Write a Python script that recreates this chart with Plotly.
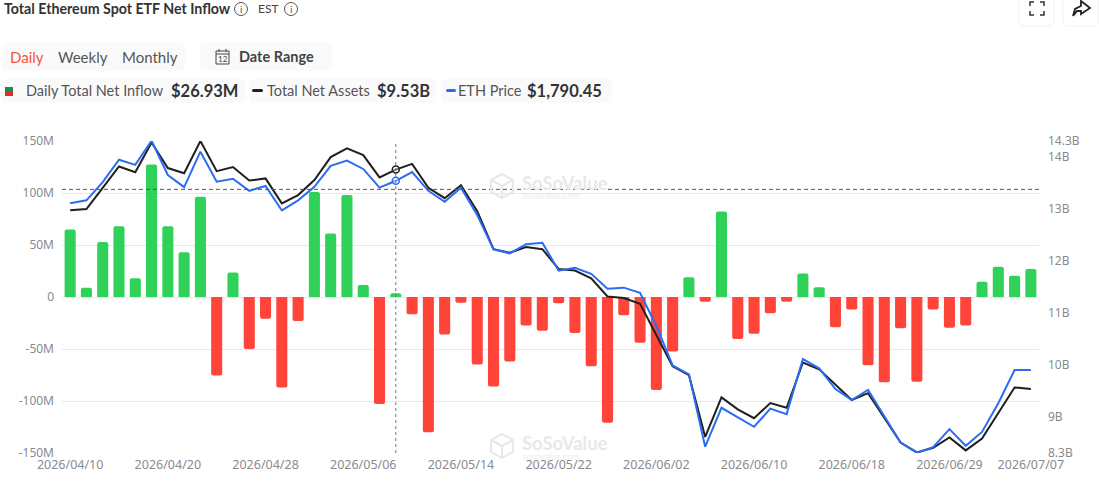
import plotly.graph_objects as go

W, H = 1100, 486

# Trading days on the x axis
dates = ['2026/04/10', '2026/04/13', '2026/04/14', '2026/04/15', '2026/04/16', '2026/04/17',
         '2026/04/20', '2026/04/21', '2026/04/22', '2026/04/23', '2026/04/24', '2026/04/27',
         '2026/04/28', '2026/04/29', '2026/04/30', '2026/05/01', '2026/05/04', '2026/05/05',
         '2026/05/06', '2026/05/07', '2026/05/08', '2026/05/11', '2026/05/12', '2026/05/13',
         '2026/05/14', '2026/05/15', '2026/05/18', '2026/05/19', '2026/05/20', '2026/05/21',
         '2026/05/22', '2026/05/26', '2026/05/27', '2026/05/28', '2026/05/29', '2026/06/01',
         '2026/06/02', '2026/06/03', '2026/06/04', '2026/06/05', '2026/06/08', '2026/06/09',
         '2026/06/10', '2026/06/11', '2026/06/12', '2026/06/15', '2026/06/16', '2026/06/17',
         '2026/06/18', '2026/06/22', '2026/06/23', '2026/06/24', '2026/06/25', '2026/06/26',
         '2026/06/29', '2026/06/30', '2026/07/01', '2026/07/02', '2026/07/06', '2026/07/07']

# Daily net inflow, $M
net_inflow = [65, 9, 53, 68, 18, 127.5, 68, 43, 96.5, -75.6,
              23.5, -50, -21, -87, -23, 101, 61, 98, 11.5, -103,
              3.5, -16.5, -130, -36, -5.5, -65, -86, -62, -27.5, -32.5,
              -6, -34.5, -66.7, -121, -17.5, -44, -89.5, -52.5, 19, -4.5,
              82.3, -40.5, -35.3, -15.7, -4.5, 22.5, 9.3, -29, -12, -65.7,
              -82, -30, -81.5, -12, -29.5, -27.3, 14.7, 29, 20.5, 26.93]

# Total net assets, $B
net_assets = [12.97, 12.99, 13.40, 13.81, 13.70, 14.27, 13.78, 13.68, 14.30, 13.72,
              13.80, 13.54, 13.58, 13.10, 13.26, 13.55, 13.99, 14.16, 14.03, 13.60,
              13.75, 13.86, 13.40, 13.20, 13.45, 12.95, 12.22, 12.15, 12.26, 12.22,
              11.84, 11.81, 11.66, 11.31, 11.28, 11.17, 10.57, 9.97, 9.80, 8.61,
              9.37, 9.14, 8.97, 9.26, 9.17, 10.04, 9.91, 9.61, 9.32, 9.45,
              8.97, 8.50, 8.31, 8.40, 8.60, 8.35, 8.58, 9.06, 9.56, 9.53]

# ETH price, $
eth_price = [2369, 2379, 2442, 2520, 2502, 2586, 2467, 2425, 2548, 2444,
             2454, 2412, 2429, 2344, 2379, 2426, 2499, 2517, 2488, 2423,
             2447, 2477, 2412, 2374, 2423, 2328, 2209, 2195, 2227, 2232,
             2135, 2145, 2124, 2072, 2076, 2058, 1943, 1806, 1775, 1524,
             1659, 1625, 1593, 1656, 1637, 1828, 1796, 1724, 1686, 1721,
             1631, 1538, 1503, 1522, 1585, 1527, 1575, 1675, 1790, 1790.45]

x_tick_labels = ['2026/04/10', '2026/04/20', '2026/04/28', '2026/05/06', '2026/05/14', '2026/05/22',
                 '2026/06/02', '2026/06/10', '2026/06/18', '2026/06/29', '2026/07/07']
left_ticks = [-150, -100, -50, 0, 50, 100, 150]
left_labels = ['-150M', '-100M', '-50M', '0', '50M', '100M', '150M']
right_ticks = [8.3, 9, 10, 11, 12, 13, 14, 14.3]
right_labels = ['8.3B', '9B', '10B', '11B', '12B', '13B', '14B', '14.3B']

hover_date = '2026/05/08'
hover_level = 103.5

GREEN = '#30D158'
RED = '#FF453A'
BLACK = '#1F1F1F'
BLUE = '#2A6DF4'
AXIS_GREY = '#8A8A92'
TEXT = '#3A3A3A'
CHIP = '#FAFAFA'
FONT = 'Lato'
AXIS_FONT = 'Noto Sans'
AXIS_SIZE = 12.5


def px(x):
    return x / W


def py(y):
    return 1 - y / H


def rounded(x0, y0, x1, y1, r, fill=CHIP, line=None):
    # rounded box in page pixels
    path = (f'M {px(x0 + r)} {py(y0)} L {px(x1 - r)} {py(y0)} Q {px(x1)} {py(y0)} {px(x1)} {py(y0 + r)} '
            f'L {px(x1)} {py(y1 - r)} Q {px(x1)} {py(y1)} {px(x1 - r)} {py(y1)} '
            f'L {px(x0 + r)} {py(y1)} Q {px(x0)} {py(y1)} {px(x0)} {py(y1 - r)} '
            f'L {px(x0)} {py(y0 + r)} Q {px(x0)} {py(y0)} {px(x0 + r)} {py(y0)} Z')
    return dict(type='path', path=path, xref='paper', yref='paper', fillcolor=fill,
                line=dict(width=1 if line else 0, color=line or fill), layer='below')


def stroke(points, color='#333333', width=1.5):
    path = 'M ' + ' L '.join(f'{px(a)} {py(b)}' for a, b in points)
    return dict(type='path', path=path, xref='paper', yref='paper',
                line=dict(color=color, width=width))


def box(x0, y0, x1, y1, color):
    return dict(type='rect', xref='paper', yref='paper', x0=px(x0), x1=px(x1), y0=py(y0), y1=py(y1),
                fillcolor=color, line=dict(width=0))


def circle(cx, cy, r, color='#555555'):
    return dict(type='circle', xref='paper', yref='paper', x0=px(cx - r), x1=px(cx + r),
                y0=py(cy - r), y1=py(cy + r), line=dict(color=color, width=1))


def label(x, y, text, size=14, color=TEXT, anchor='left', family=FONT):
    # annotations carry about 2px of padding, take it back on left aligned text
    if anchor == 'left':
        x -= 2
    return dict(x=px(x), y=py(y), xref='paper', yref='paper', text=text, showarrow=False,
                xanchor=anchor, yanchor='middle', font=dict(family=family, size=size, color=color))


fig = go.Figure()

# Bars on the left axis
fig.add_trace(go.Bar(
    x=dates, y=net_inflow, width=0.68,
    marker=dict(color=[GREEN if v >= 0 else RED for v in net_inflow], line_width=0),
    name='Daily Total Net Inflow', yaxis='y',
))
# Assets on the right axis
fig.add_trace(go.Scatter(
    x=dates, y=net_assets, mode='lines', line=dict(color=BLACK, width=2),
    name='Total Net Assets', yaxis='y2',
))
# Price has its own hidden axis
fig.add_trace(go.Scatter(
    x=dates, y=eth_price, mode='lines', line=dict(color=BLUE, width=2),
    name='ETH Price', yaxis='y3',
))
# Hover dots
fig.add_trace(go.Scatter(
    x=[hover_date], y=[net_assets[dates.index(hover_date)]], mode='markers', yaxis='y2',
    marker=dict(size=7, color='rgba(255,255,255,0.4)', line=dict(color=BLACK, width=1.5)),
))
fig.add_trace(go.Scatter(
    x=[hover_date], y=[eth_price[dates.index(hover_date)]], mode='markers', yaxis='y3',
    marker=dict(size=7, color='rgba(255,255,255,0.4)', line=dict(color=BLUE, width=1.5)),
))

domain_x = [px(62), px(1039)]
domain_y = [py(453), py(141)]

fig.update_layout(
    width=W, height=H,
    margin=dict(l=0, r=0, t=0, b=0),
    paper_bgcolor='white', plot_bgcolor='white',
    showlegend=False,
    barcornerradius=2,
    font=dict(family=AXIS_FONT, size=AXIS_SIZE, color=AXIS_GREY),
    xaxis=dict(
        domain=domain_x, type='category', categoryorder='array', categoryarray=dates,
        tickmode='array', tickvals=x_tick_labels, ticktext=x_tick_labels,
        showgrid=False, zeroline=False, showline=False, ticks='', automargin=False,
        tickangle=0, tickfont=dict(size=AXIS_SIZE, color=AXIS_GREY), ticklabelstandoff=2,
        range=[-0.5, len(dates) - 0.5],
    ),
    yaxis=dict(
        domain=domain_y, range=[-150, 150], tickmode='array', tickvals=left_ticks, ticktext=left_labels,
        showgrid=True, gridcolor='#E8E8E8', gridwidth=1, zeroline=False, automargin=False,
        tickfont=dict(size=12, color=AXIS_GREY), ticklabelstandoff=7,
    ),
    yaxis2=dict(
        domain=domain_y, range=[8.3, 14.3], overlaying='y', side='right', anchor='x', automargin=False,
        tickmode='array', tickvals=right_ticks, ticktext=right_labels,
        showgrid=False, zeroline=False, tickfont=dict(size=12, color=AXIS_GREY), ticklabelstandoff=8,
    ),
    yaxis3=dict(
        domain=domain_y, range=[1502, 2585], overlaying='y', visible=False, automargin=False,
    ),
)

shapes = [
    # crosshair
    dict(type='line', xref='x', yref='paper', x0=hover_date, x1=hover_date, y0=domain_y[0], y1=domain_y[1],
         line=dict(color='#777777', width=1, dash='3px,3px')),
    dict(type='line', xref='paper', yref='y', x0=domain_x[0], x1=domain_x[1], y0=hover_level, y1=hover_level,
         line=dict(color='#555555', width=1, dash='4px,3px')),
    # header chips
    rounded(2, 43, 185, 71, 5),
    rounded(200, 43, 332, 71, 5),
    rounded(2, 79, 245, 103, 4),
    rounded(249, 79, 436, 103, 4),
    rounded(441, 79, 612, 103, 4),
    # legend swatches
    box(5, 87, 13, 91, '#1E8E4E'),
    box(5, 91, 13, 96, '#D93025'),
    rounded(252, 89, 263, 92, 1.5, fill=BLACK),
    rounded(446, 89, 456, 92, 1.5, fill=BLUE),
    # info icons
    circle(241, 9, 6.5),
    circle(291, 9, 6.5),
    # calendar icon
    dict(type='rect', xref='paper', yref='paper', x0=px(216), x1=px(229), y0=py(64), y1=py(51),
         line=dict(color='#444444', width=1)),
    stroke([(216, 54), (229, 54)], '#444444', 1),
    stroke([(219, 49), (219, 52)], '#444444', 1),
    stroke([(226, 49), (226, 52)], '#444444', 1),
    # top right buttons
    rounded(1019, -8, 1054, 26, 6, fill='white', line='#F1F1F1'),
    rounded(1063, -8, 1098, 26, 6, fill='white', line='#F1F1F1'),
    stroke([(1030, 6), (1030, 2), (1034, 2)], '#333333', 1.5),
    stroke([(1040, 2), (1044, 2), (1044, 6)], '#333333', 1.5),
    stroke([(1030, 11), (1030, 15), (1034, 15)], '#333333', 1.5),
    stroke([(1040, 15), (1044, 15), (1044, 11)], '#333333', 1.5),
    stroke([(1073, 16), (1075, 9), (1081, 6), (1081, 1), (1090, 8), (1081, 14), (1081, 11), (1077, 11), (1073, 16)],
           '#222222', 1.8),
]

# watermarks: a small hexagon logo next to the name
for wm_y in (183, 443):
    hexagon = [(502, wm_y - 9), (513, wm_y - 3), (513, wm_y + 9), (502, wm_y + 15), (491, wm_y + 9), (491, wm_y - 3), (502, wm_y - 9)]
    shapes.append(stroke(hexagon, '#E8E8E8', 2))
    shapes.append(stroke([(491, wm_y - 3), (502, wm_y + 3), (513, wm_y - 3)], '#E8E8E8', 2))
    shapes.append(stroke([(502, wm_y + 3), (502, wm_y + 15)], '#E8E8E8', 2))

annotations = [
    label(4, 9, '<b>Total Ethereum Spot ETF Net Inflow</b>', 14.2, '#333333'),
    label(241, 9, 'i', 10, '#555555', 'center'),
    label(258, 9, 'EST', 12, '#444444'),
    label(291, 9, 'i', 10, '#555555', 'center'),
    label(10, 57, 'Daily', 15, '#F5533D'),
    label(58, 57, 'Weekly', 15, '#555555'),
    label(122, 57, 'Monthly', 15, '#555555'),
    label(239, 57, '<b>Date Range</b>', 14.5, '#444444'),
    label(222.5, 59, '12', 8, '#444444', 'center'),
    label(26, 91, 'Daily Total Net Inflow', 14.5, '#555555'),
    label(171, 91, '<b>$26.93M</b>', 16.5, '#333333'),
    label(267, 91, 'Total Net Assets', 14.5, '#555555'),
    label(377, 91, '<b>$9.53B</b>', 16.5, '#333333'),
    label(458, 91, 'ETH Price', 14.5, '#555555'),
    label(527, 91, '<b>$1,790.45</b>', 16.5, '#333333'),
]
for wm_y in (183, 443):
    annotations.append(label(522, wm_y, '<b>SoSoValue</b>', 18.5, '#E8E8E8'))
    annotations.append(label(522, wm_y + 13, 'sosovalue.com', 9, '#EDEDED'))

fig.update_layout(shapes=shapes, annotations=annotations)

# page margin off so the figure fills the window
fig.write_html("out.html", config={'displayModeBar': False}, post_script="document.body.style.margin='0';")
